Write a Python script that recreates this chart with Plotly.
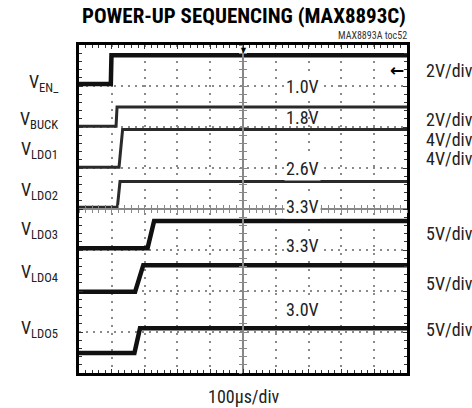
import plotly.graph_objects as go

# ---- data (time in µs, levels in screen divisions) ----
channels   = ["V<sub>EN_</sub>", "V<sub>BUCK</sub>", "V<sub>LDO1</sub>", "V<sub>LDO2</sub>",
              "V<sub>LDO3</sub>", "V<sub>LDO4</sub>", "V<sub>LDO5</sub>"]
low_div    = [7.05, 6.02, 5.02, 4.04, 3.04, 1.98, 0.49]
high_div   = [7.75, 6.49, 5.94, 4.67, 3.71, 2.63, 1.09]
rise_start = [97, 113, 122, 117, 209, 171, 169]
rise_end   = [99, 116, 133, 125, 229, 196, 186]
line_w     = [4.5, 3, 3, 3, 4.5, 4.5, 4.5]
line_col   = ["#111", "#2a2a2a", "#2a2a2a", "#2a2a2a", "#111", "#111", "#111"]
label_y    = [7.08, 6.18, 5.45, 4.45, 3.49, 2.45, 1.07]

scale_labels = ["2V/div", "2V/div", "4V/div", "4V/div", "5V/div", "5V/div", "5V/div"]
scale_y      = [7.39, 6.19, 5.70, 5.24, 3.40, 2.19, 1.05]

volt_labels = ["1.0V", "1.8V", "2.6V", "3.3V", "3.3V", "3.0V"]
volt_y      = [7.00, 6.24, 5.00, 4.07, 3.12, 1.54]
volt_bg     = ["white", "rgba(0,0,0,0)", "white", "white", "white", "white"]
volt_x      = 680

t_end = 1000
x_div = 100   # µs per division
y_divs = 8

FONT = "Liberation Sans Narrow, Arial Narrow, Roboto Condensed, sans-serif"

fig = go.Figure()
for i in range(len(channels)):
    fig.add_trace(go.Scatter(
        x=[0, rise_start[i], rise_end[i], t_end],
        y=[low_div[i], low_div[i], high_div[i], high_div[i]],
        mode="lines", line=dict(color=line_col[i], width=line_w[i]),
        showlegend=False, hoverinfo="skip"))

# dummy traces so that crosshair axes render
for k in (2, 3):
    fig.add_trace(go.Scatter(x=[None], y=[None], xaxis=f"x{k}", yaxis=f"y{k}",
                             showlegend=False, hoverinfo="skip"))

grid_col = "#8a8a8a"
fig.update_layout(
    width=472, height=408,
    margin=dict(l=79, r=65, t=45, b=35),
    paper_bgcolor="white", plot_bgcolor="white",
    font=dict(family=FONT, color="#222"),
    xaxis=dict(range=[0, t_end], dtick=x_div, showticklabels=False,
               showline=True, linecolor="black", linewidth=3, mirror="allticks",
               ticks="inside", ticklen=4, tickcolor="#333", tickwidth=1,
               minor=dict(dtick=x_div / 5, ticks="inside", ticklen=3, tickcolor="#333", showgrid=False),
               showgrid=True, gridcolor=grid_col, gridwidth=2, griddash="2px,6px",
               zeroline=False, fixedrange=True),
    yaxis=dict(range=[0, y_divs], dtick=1, showticklabels=False,
               showline=True, linecolor="black", linewidth=3, mirror="allticks",
               ticks="inside", ticklen=4, tickcolor="#333", tickwidth=1,
               minor=dict(dtick=0.2, ticks="inside", ticklen=3, tickcolor="#333", showgrid=False),
               showgrid=True, gridcolor=grid_col, gridwidth=2, griddash="2px,5px",
               zeroline=False, fixedrange=True),
)
for k, side in ((2, "outside"), (3, "inside")):
    fig.update_layout(**{
        f"xaxis{k}": dict(overlaying="x", anchor="free", position=0.5, range=[0, t_end],
                          showline=True, linecolor="#888", linewidth=1.5,
                          ticks=side, dtick=x_div / 5, ticklen=3, tickcolor="#888",
                          showticklabels=False, showgrid=False, zeroline=False),
        f"yaxis{k}": dict(overlaying="y", anchor="free", position=0.5, range=[0, y_divs],
                          showline=True, linecolor="#888", linewidth=1.5,
                          ticks=side, dtick=0.2, ticklen=3, tickcolor="#888",
                          showticklabels=False, showgrid=False, zeroline=False),
    })

ann = []
for name, yy in zip(channels, label_y):
    ann.append(dict(text=name, x=-0.058, xref="paper", y=yy, yref="y",
                    xanchor="right", yanchor="middle", showarrow=False,
                    font=dict(size=18, family=FONT, color="#222")))
for txt, yy in zip(scale_labels, scale_y):
    ann.append(dict(text=txt, x=1.052, xref="paper", y=yy, yref="y",
                    xanchor="left", yanchor="middle", showarrow=False,
                    font=dict(size=18, family=FONT, color="#222")))
for txt, yy, bg in zip(volt_labels, volt_y, volt_bg):
    ann.append(dict(text=txt, x=volt_x, xref="x", y=yy, yref="y",
                    xanchor="center", yanchor="middle", showarrow=False,
                    bgcolor=bg, borderpad=1,
                    font=dict(size=18, family=FONT, color="#222")))
ann.append(dict(text="<b>POWER-UP SEQUENCING (MAX8893C)</b>", x=0.503, xref="paper",
                y=1.088, yref="paper", xanchor="center", yanchor="middle", showarrow=False,
                font=dict(size=21, family=FONT, color="black")))
ann.append(dict(text="MAX8893A toc52", x=1.006, xref="paper", y=1.030, yref="paper",
                xanchor="right", yanchor="middle", showarrow=False,
                font=dict(size=10, family=FONT, color="#333")))
ann.append(dict(text="100µs/div", x=0.503, xref="paper", y=-0.073, yref="paper",
                xanchor="center", yanchor="middle", showarrow=False,
                font=dict(size=18, family=FONT, color="#222")))
ann.append(dict(text="▼", x=0.5, xref="paper", y=1.005, yref="paper",
                xanchor="center", yanchor="top", showarrow=False,
                font=dict(size=9, color="black")))
ann.append(dict(text="<b>←</b>", x=0.997, xref="paper", y=7.39, yref="y",
                xanchor="right", yanchor="middle", showarrow=False,
                font=dict(size=17, family="DejaVu Sans", color="black")))
fig.update_layout(annotations=ann)

fig.write_html("out.html", config={"displayModeBar": False},
               post_script="document.body.style.margin='0';document.body.style.overflow='hidden';")
